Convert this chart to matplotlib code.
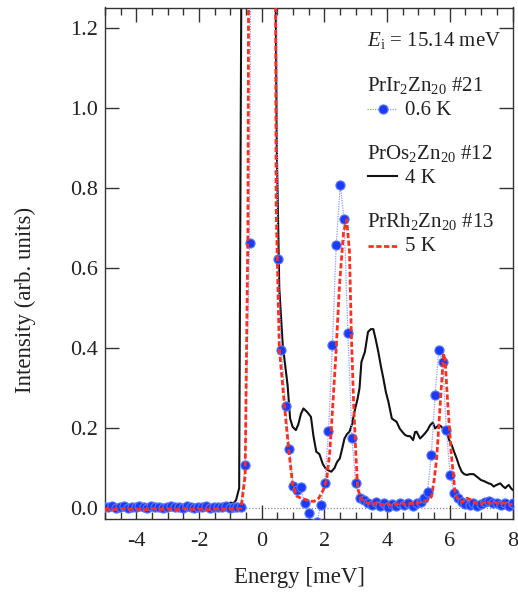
import matplotlib
matplotlib.use('Agg')
import matplotlib.pyplot as plt
from matplotlib.lines import Line2D
from matplotlib.ticker import MultipleLocator, FormatStrFormatter

plt.rcParams['font.family'] = ['Liberation Serif', 'DejaVu Serif']
plt.rcParams['mathtext.fontset'] = 'custom'
plt.rcParams['mathtext.rm'] = 'Liberation Serif'
plt.rcParams['mathtext.it'] = 'Liberation Serif:italic'
plt.rcParams['axes.unicode_minus'] = False

# ---------------- data ----------------
# PrIr2Zn20 #21, 0.6 K (blue dots)
energy_ir = [-5.02, -4.9, -4.77, -4.65, -4.52, -4.4, -4.27, -4.15, -4.02, -3.9,
             -3.77, -3.65, -3.52, -3.4, -3.27, -3.15, -3.02, -2.9, -2.77, -2.65,
             -2.52, -2.4, -2.27, -2.15, -2.02, -1.9, -1.77, -1.65, -1.52, -1.4,
             -1.27, -1.15, -1.02, -0.9, -0.79, -0.67, -0.53, -0.39, -0.26, -0.13,
             0.0, 0.13, 0.26, 0.39, 0.51, 0.63, 0.76, 0.885, 1.0, 1.12,
             1.24, 1.37, 1.5, 1.63, 1.76, 1.88, 2.01, 2.13, 2.255, 2.375,
             2.505, 2.625, 2.75, 2.88, 3.0, 3.12, 3.25, 3.38, 3.51, 3.64,
             3.77, 3.9, 4.03, 4.16, 4.29, 4.42, 4.55, 4.68, 4.81, 4.94,
             5.07, 5.19, 5.29, 5.41, 5.53, 5.65, 5.77, 5.89, 6.01, 6.14,
             6.26, 6.38, 6.5, 6.63, 6.75, 6.88, 7.0, 7.13, 7.25, 7.38,
             7.5, 7.63, 7.75, 7.88, 8.0]
intensity_ir = [0.004, 0.002, 0.006, 0.001, 0.003, 0.005, 0.0, 0.004, 0.002, 0.006,
                0.003, 0.001, 0.005, 0.002, 0.004, 0.0, 0.003, 0.006, 0.002, 0.004,
                0.001, 0.005, 0.003, 0.0, 0.004, 0.002, 0.005, 0.001, 0.003, 0.004,
                0.002, 0.005, 0.001, 0.003, 0.002, 0.004, 0.108, 0.662, 3.0, 9.0,
                14.0, 14.0, 9.0, 3.0, 0.621, 0.396, 0.255, 0.149, 0.055, 0.045,
                0.052, 0.012, -0.012, -0.04, -0.035, 0.007, 0.062, 0.192, 0.408, 0.657,
                0.807, 0.722, 0.438, 0.174, 0.062, 0.025, 0.02, 0.012, 0.008, 0.015,
                0.006, 0.012, 0.004, 0.01, 0.006, 0.014, 0.008, 0.012, 0.006, 0.012,
                0.016, 0.025, 0.041, 0.133, 0.282, 0.396, 0.365, 0.195, 0.083, 0.037,
                0.025, 0.015, 0.01, 0.008, 0.012, 0.006, 0.01, 0.016, 0.018, 0.012,
                0.014, 0.008, 0.012, 0.006, 0.012]

# PrOs2Zn20 #12, 4 K (black line)
energy_os = [-5.0, -4.85, -4.7, -4.58, -4.46, -4.35, -4.2, -4.05, -3.9, -3.75,
             -3.6, -3.45, -3.3, -3.15, -3.0, -2.85, -2.7, -2.55, -2.4, -2.25,
             -2.11, -1.98, -1.85, -1.72, -1.58, -1.45, -1.32, -1.2, -1.1, -1.0,
             -0.9, -0.82, -0.72, -0.64, -0.55, 0.0, 0.33, 0.48, 0.56, 0.67,
             0.825, 0.905, 0.985, 1.09, 1.17, 1.25, 1.33, 1.45, 1.57, 1.65,
             1.74, 1.84, 1.95, 2.03, 2.11, 2.22, 2.32, 2.40, 2.49, 2.57,
             2.64, 2.72, 2.80, 2.88, 2.96, 3.06, 3.12, 3.18, 3.29, 3.39,
             3.48, 3.56, 3.64, 3.72, 3.80, 3.88, 3.96, 4.04, 4.15, 4.22,
             4.30, 4.40, 4.49, 4.57, 4.65, 4.73, 4.83, 4.89, 4.94, 5.05,
             5.13, 5.21, 5.29, 5.37, 5.46, 5.53, 5.64, 5.71, 5.78, 5.85,
             5.91, 5.98, 6.06, 6.14, 6.22, 6.30, 6.38, 6.46, 6.54, 6.64,
             6.76, 6.84, 6.92, 7.0, 7.08, 7.16, 7.24, 7.32, 7.40, 7.49,
             7.55, 7.61, 7.69, 7.77, 7.83, 7.88, 7.95, 8.0]
intensity_os = [0.004, 0.003, 0.004, 0.002, 0.007, 0.003, 0.002, 0.004, 0.002, 0.003,
                0.002, 0.004, 0.003, 0.002, 0.003, 0.002, 0.004, 0.003, 0.005, 0.006,
                0.008, 0.006, 0.007, 0.005, 0.007, 0.006, 0.008, 0.012, 0.009, 0.014,
                0.012, 0.02, 0.05, 1.5, 4.0, 15.0, 2.5, 0.9, 0.55, 0.407,
                0.307, 0.224, 0.203, 0.195, 0.21, 0.235, 0.249, 0.24, 0.228, 0.18,
                0.141, 0.135, 0.11, 0.1, 0.095, 0.091, 0.1, 0.115, 0.124, 0.15,
                0.174, 0.185, 0.191, 0.21, 0.241, 0.274, 0.3, 0.365, 0.39, 0.44,
                0.447, 0.447, 0.42, 0.39, 0.355, 0.324, 0.29, 0.266, 0.224, 0.22,
                0.216, 0.199, 0.19, 0.183, 0.18, 0.18, 0.17, 0.19, 0.191, 0.174,
                0.18, 0.187, 0.195, 0.207, 0.214, 0.199, 0.207, 0.205, 0.199, 0.195,
                0.187, 0.17, 0.158, 0.14, 0.124, 0.105, 0.091, 0.085, 0.083, 0.085,
                0.085, 0.08, 0.075, 0.07, 0.068, 0.065, 0.062, 0.06, 0.054, 0.058,
                0.06, 0.062, 0.055, 0.05, 0.055, 0.058, 0.05, 0.046]

# PrRh2Zn20 #13, 5 K (red dashed)
energy_rh = [-5.0, -4.75, -4.5, -4.25, -4.0, -3.75, -3.5, -3.25, -3.0, -2.75,
             -2.5, -2.25, -2.0, -1.75, -1.5, -1.25, -1.0, -0.8, -0.66, -0.53,
             -0.44, -0.36, -0.2, 0.0, 0.2, 0.4, 0.46, 0.56, 0.72, 0.855,
             0.985, 1.12, 1.25, 1.37, 1.52, 1.67, 1.82, 1.96, 2.07, 2.17,
             2.27, 2.37, 2.48, 2.61, 2.71, 2.80, 2.86, 2.93, 3.0, 3.06,
             3.16, 3.25, 3.4, 3.55, 3.7, 3.85, 4.0, 4.15, 4.3, 4.45,
             4.6, 4.75, 4.9, 5.05, 5.2, 5.35, 5.42, 5.5, 5.58, 5.70,
             5.80, 5.85, 5.93, 6.04, 6.17, 6.27, 6.4, 6.55, 6.7, 6.85,
             7.0, 7.15, 7.3, 7.45, 7.6, 7.75, 7.9, 8.0]
intensity_rh = [-0.002, -0.004, -0.001, -0.003, -0.002, -0.004, -0.001, -0.003, -0.002, -0.004,
                -0.001, -0.003, -0.002, -0.004, -0.002, -0.003, -0.002, -0.003, 0.0, 0.08,
                0.7, 3.0, 10.0, 15.0, 10.0, 2.5, 0.75, 0.4, 0.26, 0.15,
                0.06, 0.03, 0.025, 0.022, 0.018, 0.017, 0.025, 0.045, 0.07, 0.14,
                0.26, 0.39, 0.556, 0.69, 0.72, 0.64, 0.43, 0.266, 0.14, 0.05,
                0.025, 0.018, 0.012, 0.01, 0.015, 0.008, 0.012, 0.006, 0.01, 0.014,
                0.008, 0.012, 0.01, 0.015, 0.018, 0.022, 0.03, 0.07, 0.124, 0.266,
                0.386, 0.37, 0.266, 0.141, 0.037, 0.02, 0.015, 0.025, 0.02, 0.012,
                0.01, 0.018, 0.012, 0.015, 0.01, 0.014, 0.008, 0.01]

legend_labels = [r'PrIr$_2$Zn$_{20}$ #21', r'PrOs$_2$Zn$_{20}$ #12', r'PrRh$_2$Zn$_{20}$ #13']
temp_labels = ['0.6 K', '4 K', '5 K']
x_ticks = [-4, -2, 0, 2, 4, 6, 8]
y_ticks = [0.0, 0.2, 0.4, 0.6, 0.8, 1.0, 1.2]

# ---------------- style ----------------
TXT = '#222222'
BLUE = '#1a3cf5'
BLUE_EDGE = '#5a78ff'
BLUE_LINE = '#8c9cff'
RED = '#ff3020'
BLACK = '#111111'

W, H = 518, 595
fig = plt.figure(figsize=(W / 100, H / 100), dpi=100)
ax_l, ax_r, ax_t, ax_b = 105, 512.5, 7.5, 519
ax = fig.add_axes([ax_l / W, 1 - ax_b / H, (ax_r - ax_l) / W, (ax_b - ax_t) / H])

ax.axhline(0, color='#8a8a8a', ls=(0, (1, 1.5)), lw=0.9, zorder=1)

ax.plot(energy_os, intensity_os, color=BLACK, lw=1.5, zorder=2)
ax.plot(energy_ir, intensity_ir, color=BLUE_LINE, ls=(0, (1, 1)), lw=0.9,
        marker='o', ms=6.6, mfc=BLUE, mec=BLUE_EDGE, mew=0.8, zorder=3)
ax.plot(energy_rh, intensity_rh, color=RED, lw=2.0, dashes=(1.9, 0.9), zorder=4)

ax.set_xlim(-5, 8)
ax.set_ylim(-0.027, 1.25)
ax.set_xticks(x_ticks)
ax.set_yticks(y_ticks)
ax.xaxis.set_minor_locator(MultipleLocator(0.5))
ax.yaxis.set_major_formatter(FormatStrFormatter('%.1f'))
ax.tick_params(which='both', direction='in', top=True, right=True,
               colors='#333333', labelcolor=TXT, labelsize=16)
ax.tick_params(which='major', length=10, width=1.0)
ax.tick_params(which='minor', length=5, width=1.0)
ax.tick_params(axis='x', which='major', pad=9)
ax.tick_params(axis='y', which='major', pad=5)
for s in ax.spines.values():
    s.set_color('#333333')
    s.set_linewidth(1.0)

ax.set_xlabel('Energy [meV]', fontsize=16.5, color=TXT)
ax.set_ylabel('Intensity (arb. units)', fontsize=16.5, color=TXT)
ax.xaxis.label.set_va('center')
ax.yaxis.label.set_va('center')

def axfrac(px, py):
    return (px - ax_l) / (ax_r - ax_l), (ax_b - py) / (ax_b - ax_t)

ax.xaxis.set_label_coords(*axfrac(300, 578))
ax.yaxis.set_label_coords(*axfrac(25, 300))

# ---------------- legend (hand placed) ----------------
fs = 15
tx = 367
ax.text(*axfrac(tx, 45.7), r'$E_\mathrm{i}$ = 15.14 meV', transform=ax.transAxes,
        fontsize=fs, color=TXT, va='baseline', ha='left')
title_y = [90.7, 159.3, 226.7]
temp_y = [115, 182.7, 251]
handle_y = [109, 175.7, 245.7]
for i in range(3):
    ax.text(*axfrac(tx, title_y[i]), legend_labels[i], transform=ax.transAxes,
            fontsize=fs, color=TXT, va='baseline', ha='left')
    ax.text(*axfrac(405, temp_y[i]), temp_labels[i], transform=ax.transAxes,
            fontsize=fs, color=TXT, va='baseline', ha='left')
x0, y0 = axfrac(367, handle_y[0]); x1, _ = axfrac(396, handle_y[0])
ax.add_line(Line2D([x0, x1], [y0, y0], transform=ax.transAxes, color=BLUE_LINE,
                   ls=(0, (1, 1)), lw=0.9))
xm, _ = axfrac(382.5, handle_y[0])
ax.add_line(Line2D([xm], [y0], transform=ax.transAxes, marker='o', ms=6.6,
                   mfc=BLUE, mec=BLUE_EDGE, mew=0.8, ls='none'))
x0, y1 = axfrac(368, handle_y[1]); x1, _ = axfrac(397, handle_y[1])
ax.add_line(Line2D([x0, x1], [y1, y1], transform=ax.transAxes, color=BLACK, lw=1.5))
x0, y2 = axfrac(368, handle_y[2]); x1, _ = axfrac(397, handle_y[2])
ax.add_line(Line2D([x0, x1], [y2, y2], transform=ax.transAxes, color=RED, lw=2.0,
                   dashes=(1.9, 0.9)))

fig.savefig('out.png', dpi=100)
